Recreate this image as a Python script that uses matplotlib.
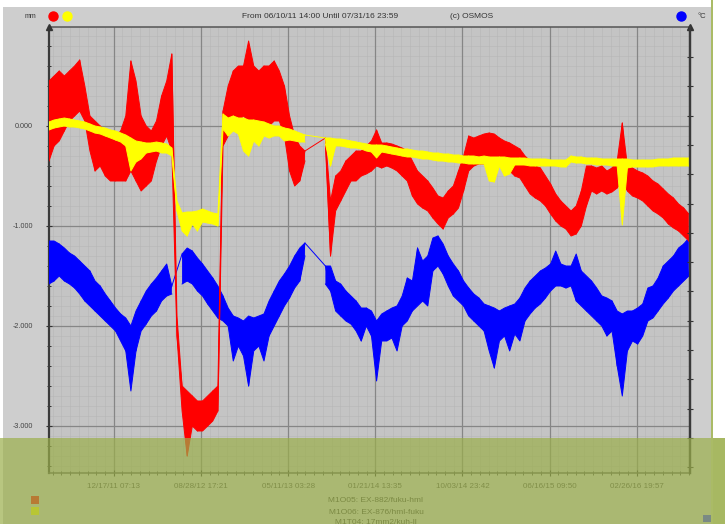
import numpy as np
import pandas as pd
import matplotlib
matplotlib.use("Agg")
import matplotlib.pyplot as plt
import matplotlib.dates as mdates
from matplotlib.lines import Line2D
from matplotlib.patches import Rectangle

plt.rcParams['font.family'] = ['Liberation Sans', 'DejaVu Sans']

# export window and sampling of the min/max records
t_from = "06/10/11 14:00"
t_until = "07/31/16 23:59"
step_days = 15

tick_labels = ["12/17/11 07:13", "08/28/12 17:21", "05/11/13 03:28", "01/21/14 13:35",
               "10/03/14 23:42", "06/16/15 09:50", "02/26/16 19:57"]
y_ticks = [0.0, -1.0, -2.0, -3.0]
y_tick_labels = ["0.000", "-1.000", "-2.000", "-3.000"]

legend_names = ["M1O05: EX-882/fuku-hml", "M1O06: EX-876/hml-fuku", "M1T04: 17mm2/kuh-ll"]

nan = np.nan

# EX-882 (red), 15-day max / min
ex882_hi = [0.45, 0.50, 0.55, 0.50, 0.55, 0.60, 0.66, 0.40, 0.10, 0.05,
            0.00, -0.05, -0.05, -0.10, -0.05, 0.10, 0.65, 0.45, 0.10, 0.00,
            -0.05, 0.05, 0.30, 0.45, 0.72, -1.90, -2.60, -2.65, -2.70, -2.75,
            -2.75, -2.70, -2.65, -2.60, 0.15, 0.40, 0.55, 0.60, 0.60, 0.85,
            0.60, 0.55, 0.60, 0.60, 0.65, 0.55, 0.40, 0.10, -0.10, -0.20,
            -0.25, nan, nan, nan, -0.12, -0.75, -0.50, -0.45, -0.35, -0.30,
            -0.25, -0.25, -0.20, -0.15, -0.04, -0.17, -0.17, -0.18, -0.20, -0.22,
            -0.25, -0.35, -0.45, -0.50, -0.55, -0.62, -0.70, -0.72, -0.65, -0.60,
            -0.45, -0.30, -0.10, -0.12, -0.10, -0.08, -0.07, -0.08, -0.12, -0.15,
            -0.17, -0.20, -0.23, -0.30, -0.35, -0.40, -0.42, -0.50, -0.58, -0.68,
            -0.75, -0.80, -0.85, -0.80, -0.65, -0.40, -0.40, -0.42, -0.40, -0.45,
            -0.42, -0.35, 0.03, -0.40, -0.42, -0.45, -0.47, -0.50, -0.55, -0.58,
            -0.63, -0.68, -0.72, -0.78, -0.82, -0.88]
ex882_lo = [-0.35, -0.20, -0.15, -0.05, 0.05, 0.10, 0.15, 0.05, -0.25, -0.45,
            -0.40, -0.50, -0.55, -0.55, -0.55, -0.55, -0.45, -0.55, -0.65, -0.60,
            -0.55, -0.35, -0.20, -0.10, -0.25, -2.10, -2.85, -3.30, -3.00, -3.05,
            -3.05, -3.00, -2.95, -2.85, -0.20, -0.10, 0.05, 0.05, 0.10, 0.05,
            0.05, 0.00, 0.05, 0.00, 0.05, 0.05, -0.10, -0.45, -0.60, -0.55,
            -0.35, nan, nan, nan, -0.18, -1.30, -0.85, -0.75, -0.65, -0.55,
            -0.55, -0.50, -0.48, -0.45, -0.40, -0.42, -0.40, -0.42, -0.45, -0.50,
            -0.55, -0.70, -0.78, -0.82, -0.85, -0.92, -0.98, -1.03, -0.92, -0.88,
            -0.82, -0.65, -0.45, -0.40, -0.38, -0.38, -0.35, -0.38, -0.38, -0.40,
            -0.45, -0.50, -0.52, -0.60, -0.68, -0.72, -0.75, -0.80, -0.88, -0.95,
            -1.00, -1.03, -1.10, -1.08, -1.00, -0.80, -0.65, -0.68, -0.65, -0.68,
            -0.66, -0.62, -0.55, -0.65, -0.70, -0.72, -0.75, -0.80, -0.85, -0.88,
            -0.92, -0.98, -1.02, -1.05, -1.10, -1.15]

# EX-876 (yellow)
ex876_hi = [0.04, 0.06, 0.07, 0.08, 0.07, 0.06, 0.05, 0.04, 0.02, 0.00,
            -0.01, -0.02, -0.04, -0.05, -0.07, -0.09, -0.12, -0.15, -0.16, -0.17,
            -0.17, -0.16, -0.17, -0.18, -0.22, -0.75, -0.87, -0.86, -0.86, -0.85,
            -0.83, -0.85, -0.87, -0.88, 0.12, 0.08, 0.10, 0.08, 0.08, 0.06,
            0.06, 0.05, 0.04, 0.02, 0.00, 0.00, -0.02, -0.03, -0.05, -0.07,
            -0.09, nan, nan, nan, -0.12, -0.12, -0.13, -0.13, -0.14, -0.15,
            -0.16, -0.17, -0.18, -0.19, -0.19, -0.19, -0.20, -0.21, -0.22, -0.23,
            -0.23, -0.24, -0.25, -0.25, -0.26, -0.27, -0.27, -0.28, -0.28, -0.29,
            -0.29, -0.30, -0.30, -0.30, -0.31, -0.30, -0.31, -0.31, -0.31, -0.31,
            -0.32, -0.32, -0.32, -0.32, -0.33, -0.33, -0.33, -0.33, -0.34, -0.34,
            -0.34, -0.34, -0.30, -0.31, -0.31, -0.32, -0.32, -0.32, -0.33, -0.33,
            -0.33, -0.33, -0.33, -0.33, -0.34, -0.34, -0.34, -0.34, -0.34, -0.33,
            -0.33, -0.33, -0.32, -0.32, -0.32, -0.32]
ex876_lo = [-0.04, -0.02, -0.01, 0.00, -0.01, -0.01, -0.02, -0.03, -0.05, -0.07,
            -0.08, -0.10, -0.12, -0.14, -0.16, -0.20, -0.45, -0.36, -0.33, -0.27,
            -0.26, -0.25, -0.27, -0.27, -0.30, -0.85, -1.05, -1.10, -0.98, -1.05,
            -0.96, -0.97, -0.98, -1.00, -0.03, -0.10, -0.05, -0.08, -0.25, -0.30,
            -0.15, -0.20, -0.10, -0.12, -0.10, -0.10, -0.15, -0.14, -0.15, -0.16,
            -0.16, nan, nan, nan, -0.18, -0.40, -0.20, -0.20, -0.21, -0.22,
            -0.22, -0.23, -0.25, -0.26, -0.32, -0.26, -0.27, -0.28, -0.29, -0.30,
            -0.31, -0.31, -0.32, -0.33, -0.33, -0.34, -0.35, -0.35, -0.36, -0.36,
            -0.37, -0.37, -0.38, -0.38, -0.38, -0.38, -0.55, -0.56, -0.40, -0.50,
            -0.48, -0.39, -0.39, -0.39, -0.40, -0.40, -0.40, -0.40, -0.40, -0.40,
            -0.41, -0.41, -0.36, -0.37, -0.37, -0.38, -0.38, -0.39, -0.39, -0.39,
            -0.40, -0.40, -0.99, -0.42, -0.41, -0.41, -0.41, -0.41, -0.41, -0.40,
            -0.40, -0.40, -0.40, -0.40, -0.40, -0.40]

# temperature (blue), drawn in the same plot units
temp_hi = [-1.15, -1.15, -1.18, -1.22, -1.27, -1.30, -1.35, -1.40, -1.45, -1.55,
           -1.60, -1.68, -1.75, -1.82, -1.88, -1.92, -2.00, -1.85, -1.75, -1.65,
           -1.58, -1.52, -1.45, -1.38, -1.60, nan, -1.28, -1.22, -1.25, -1.32,
           -1.38, -1.45, -1.52, -1.60, -1.70, -1.82, -1.90, -1.92, -1.95, -1.90,
           -1.92, -1.90, -1.88, -1.75, -1.65, -1.55, -1.48, -1.40, -1.30, -1.22,
           -1.17, nan, nan, nan, -1.40, -1.40, -1.55, -1.58, -1.65, -1.70,
           -1.75, -1.82, -1.82, -1.85, -1.95, -1.88, -1.85, -1.82, -1.80, -1.70,
           -1.52, -1.55, -1.22, -1.35, -1.30, -1.12, -1.10, -1.18, -1.30, -1.38,
           -1.45, -1.55, -1.62, -1.68, -1.72, -1.78, -1.80, -1.82, -1.85, -1.82,
           -1.80, -1.78, -1.72, -1.62, -1.55, -1.50, -1.45, -1.42, -1.38, -1.25,
           -1.38, -1.40, -1.40, -1.28, -1.45, -1.50, -1.55, -1.62, -1.70, -1.72,
           -1.75, -1.85, -1.88, -1.85, -1.85, -1.82, -1.78, -1.62, -1.60, -1.52,
           -1.40, -1.35, -1.30, -1.22, -1.18, -1.12]
temp_lo = [-1.58, -1.55, -1.50, -1.55, -1.58, -1.62, -1.68, -1.75, -1.80, -1.85,
           -1.90, -1.95, -2.00, -2.05, -2.15, -2.25, -2.65, -2.25, -2.05, -1.98,
           -1.90, -1.85, -1.75, -1.70, -1.68, nan, -1.58, -1.55, -1.58, -1.65,
           -1.70, -1.78, -1.85, -1.92, -1.95, -2.00, -2.35, -2.20, -2.30, -2.60,
           -2.25, -2.20, -2.35, -2.10, -2.00, -1.90, -1.80, -1.72, -1.62, -1.55,
           -1.30, nan, nan, nan, -1.58, -1.65, -1.85, -1.90, -1.95, -1.98,
           -2.05, -2.15, -2.00, -2.10, -2.55, -2.15, -2.15, -2.12, -2.25, -2.00,
           -1.95, -1.85, -1.80, -1.75, -1.80, -1.45, -1.40, -1.48, -1.60, -1.70,
           -1.75, -1.80, -1.90, -1.95, -2.00, -2.05, -2.25, -2.42, -2.15, -2.10,
           -2.25, -2.08, -2.15, -1.95, -1.88, -1.82, -1.78, -1.72, -1.65, -1.60,
           -1.60, -1.62, -1.60, -1.75, -1.80, -1.85, -1.90, -1.95, -2.00, -2.10,
           -2.05, -2.40, -2.70, -2.25, -2.15, -2.18, -2.10, -1.95, -1.92, -1.85,
           -1.78, -1.72, -1.65, -1.60, -1.55, -1.50]

for s in (ex882_hi, ex882_lo, ex876_hi, ex876_lo, temp_hi, temp_lo):
    assert len(s) == len(ex882_hi), len(s)

fmt = "%m/%d/%y %H:%M"
start = pd.to_datetime(t_from, format=fmt)
end = pd.to_datetime(t_until, format=fmt)
n = len(ex882_hi)
stamps = start + pd.to_timedelta(np.arange(n) * step_days, unit="D")
t = mdates.date2num(stamps.to_pydatetime())
tick_pos = mdates.date2num(pd.to_datetime(tick_labels, format=fmt).to_pydatetime())
x0, x1 = mdates.date2num(start.to_pydatetime()), mdates.date2num(end.to_pydatetime())

W, H = 725, 524
fig = plt.figure(figsize=(W / 100, H / 100), dpi=100)
fig.patch.set_facecolor("white")

def fx(px):
    return px / W

def fy(py):
    return 1 - py / H

# grey panel of the monitoring window
fig.add_artist(Rectangle((fx(3), 0), fx(712 - 3), fy(7), transform=fig.transFigure,
                         facecolor="#cecece", edgecolor="none", zorder=-5))

ax = fig.add_axes([fx(49), fy(473), fx(690 - 49), (473 - 27) / H])
ax.set_facecolor("#c4c4c4")
ax.set_xlim(x0, x1)
ax.set_ylim(-3.47, 0.99)


def draw_band(hi, lo, color, z):
    hi = np.array(hi, dtype=float)
    lo = np.array(lo, dtype=float)
    ax.fill_between(t, lo, hi, color=color, lw=0, zorder=z)
    ax.plot(t, hi, color=color, lw=0.7, zorder=z)
    ax.plot(t, lo, color=color, lw=0.7, zorder=z)
    zig = np.where(np.arange(len(hi)) % 2 == 0, hi, lo)
    ok = ~np.isnan(zig)
    ax.plot(t[ok], zig[ok], color=color, lw=0.7, zorder=z)


draw_band(temp_hi, temp_lo, "#0000ff", 3)
draw_band(ex882_hi, ex882_lo, "#ff0000", 4)
draw_band(ex876_hi, ex876_lo, "#ffff00", 5)

# faint fine grid
for v in np.arange(-3.4, 0.95, 0.1):
    ax.axhline(v, color="#b6b6b6", lw=0.4, zorder=0.5)
spacing = tick_pos[1] - tick_pos[0]
fine_x = np.arange(tick_pos[0] - spacing, x1, spacing / 10)
fine_x = fine_x[fine_x > x0]
for v in fine_x:
    ax.axvline(v, color="#b6b6b6", lw=0.4, zorder=0.5)
for v in y_ticks:
    ax.axhline(v, color="#868686", lw=0.9, zorder=1)
for v in tick_pos:
    ax.axvline(v, color="#868686", lw=0.9, zorder=1)

ax.set_xticks(tick_pos)
ax.set_xticklabels(tick_labels)
ax.set_xticks(fine_x, minor=True)
ax.set_yticks(y_ticks)
ax.set_yticklabels(y_tick_labels)
ax.set_yticks(np.arange(-3.4, 0.95, 0.2), minor=True)
ax.tick_params(axis="x", which="major", direction="inout", length=5, width=0.8,
               colors="#333333", labelsize=5.8, pad=5, labelcolor="#444444")
ax.tick_params(axis="x", which="minor", direction="inout", length=3, width=0.6, color="#333333")
ax.tick_params(axis="y", which="major", direction="inout", length=5, width=0.8,
               colors="#333333", labelsize=5.2, pad=9, labelcolor="#444444")
ax.tick_params(axis="y", which="minor", direction="inout", length=3, width=0.7, color="#333333")
for side in ("left", "right"):
    ax.spines[side].set_linewidth(1.6)
    ax.spines[side].set_color("#3a3a3a")
for side in ("top", "bottom"):
    ax.spines[side].set_linewidth(1.1)
    ax.spines[side].set_color("#555555")

# right (temperature) axis marks
ax2 = ax.twinx()
ax2.set_ylim(ax.get_ylim())
ax2.set_yticks(np.arange(0.69, -3.47, -0.293))
ax2.set_yticklabels([])
ax2.tick_params(axis="y", direction="inout", length=4, width=0.8, color="#333333")
for side in ("left", "top", "bottom"):
    ax2.spines[side].set_visible(False)
ax2.spines["right"].set_linewidth(1.6)
ax2.spines["right"].set_color("#3a3a3a")

for xa in (0, 1):
    ax.plot([xa], [1], marker="^", ms=4, color="#333333", transform=ax.transAxes,
            clip_on=False, zorder=6)

# header line
hdr = dict(fontsize=6, color="#333333", va="center")
fig.text(fx(25), fy(17), "mm", fontsize=5, color="#333333", va="center")
fig.text(fx(242), fy(16), f"From {t_from} Until {t_until}", **hdr)
fig.text(fx(450), fy(16), "(c) OSMOS", **hdr)
fig.text(fx(698), fy(16), "°C", fontsize=5.5, color="#333333", va="center")
for px, c in ((53, "#ff0000"), (67, "#ffff00"), (681, "#0000ff")):
    fig.add_artist(Line2D([fx(px)], [fy(16)], marker="o", ms=6.5, color=c,
                          transform=fig.transFigure))

# legend rows under the axis (the third row runs off the bottom edge)
for i, (name, c) in enumerate(zip(legend_names, ("#ff0000", "#ffff00", "#0000ff"))):
    yy = 500 + 11 * i
    if i < 2:
        fig.add_artist(Rectangle((fx(31), fy(yy + 4)), fx(8), 8 / H, transform=fig.transFigure,
                                 facecolor=c, edgecolor="none", zorder=5))
    fig.text(fx(376), fy(yy + 1), name, fontsize=6, color="#333333",
             ha="center", va="center", zorder=5)

# olive band over the lower part of the slide
olive = (155 / 255, 175 / 255, 75 / 255)
fig.add_artist(Rectangle((0, 0), 1, fy(438), transform=fig.transFigure,
                         facecolor=olive, alpha=0.7, edgecolor="none", zorder=10))
fig.add_artist(Rectangle((fx(711), 0), fx(2), 1, transform=fig.transFigure,
                         facecolor="#aabb66", edgecolor="none", zorder=11))
fig.add_artist(Rectangle((fx(713), 0), fx(12), fy(438), transform=fig.transFigure,
                         facecolor="#a7b862", edgecolor="none", zorder=11))
fig.add_artist(Rectangle((fx(703), fy(522)), fx(8), 7 / H, transform=fig.transFigure,
                         facecolor="#7a8a84", edgecolor="none", zorder=12))

fig.savefig("out.png", dpi=100)
